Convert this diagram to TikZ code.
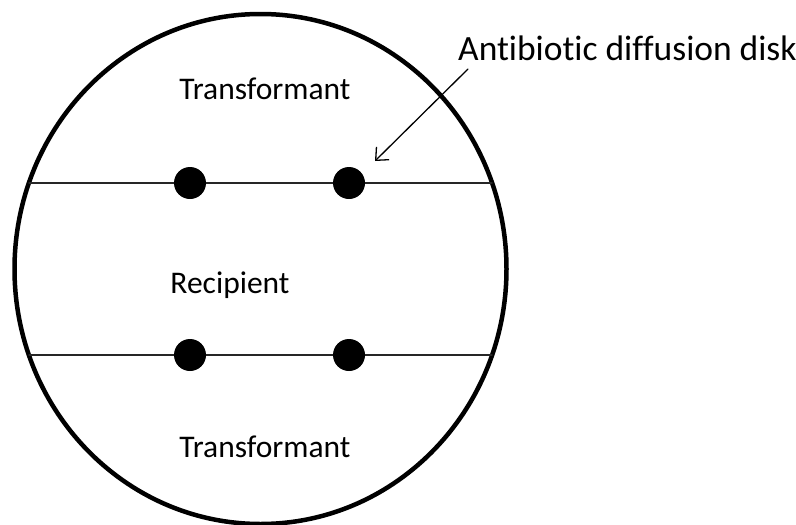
\documentclass[tikz,border=0pt]{standalone}
\usepackage{fontspec}
\setmainfont{Carlito}[Ligatures=NoCommon]
\usetikzlibrary{arrows.meta}

\begin{document}
\begin{tikzpicture}[line cap=round,line join=round,x=1pt,y=-1pt,
	disk/.style={circle,fill=black,inner sep=0pt,minimum size=32pt},
	lbl/.style={font=\fontsize{31.5}{36}\selectfont,inner sep=0pt}]
	\useasboundingbox (0,0) rectangle (796,525);
	%plate
	\draw[line width=4.5pt] (260.5,269) ellipse [x radius=246, y radius=255];
	%separation lines
	\coordinate (l1) at (29,183);
	\coordinate (r1) at (492,183);
	\coordinate (l2) at (29,355);
	\coordinate (r2) at (492,355);
	\draw[line width=1.5pt,black!85] (l1)--(r1);
	\draw[line width=1.5pt,black!85] (l2)--(r2);
	%disks
	\node[disk] (d1) at (190,183) {};
	\node[disk] (d2) at (349,183) {};
	\node[disk] (d3) at (190,355) {};
	\node[disk] (d4) at (349,355) {};
	%zones
	\node[lbl,anchor=base] (t1) at (265,99) {Transformant};
	\node[lbl,anchor=base] (rec) at (230,293) {Recipient};
	\node[lbl,anchor=base] (t2) at (265,457) {Transformant};
	%label and arrow
	\node[lbl,anchor=base west,font=\fontsize{35.5}{40}\selectfont] (abd) at (458,60) {Antibiotic diffusion disk};
	\coordinate (a0) at (468,69);
	\coordinate (a1) at (375,161);
	\draw[line width=1.3pt,-{Straight Barb[length=10pt,width=18pt]}] (a0)--(a1);
\end{tikzpicture}
\end{document}
